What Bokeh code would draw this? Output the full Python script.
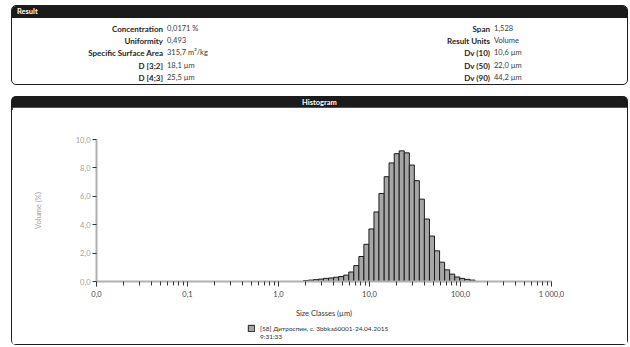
from bokeh.plotting import figure
from bokeh.models import (Range1d, FixedTicker, CustomJSTickFormatter, Div, Legend,
                          LegendItem, ColumnDataSource)
from bokeh.layouts import column
from bokeh.embed import file_html
from bokeh.resources import INLINE

# ---- data -------------------------------------------------------------
bin_lower = [1.88, 2.13, 2.42, 2.75, 3.12, 3.55, 4.03, 4.58, 5.21, 5.92, 6.72, 7.64,
             8.68, 9.86, 11.2, 12.7, 14.5, 16.4, 18.7, 21.2, 24.1, 27.4, 31.1, 35.3,
             40.1, 45.6, 51.8, 58.9, 66.9, 76.0, 86.4, 98.1, 111.0, 127.0]
bin_upper = [2.13, 2.42, 2.75, 3.12, 3.55, 4.03, 4.58, 5.21, 5.92, 6.72, 7.64, 8.68,
             9.86, 11.2, 12.7, 14.5, 16.4, 18.7, 21.2, 24.1, 27.4, 31.1, 35.3, 40.1,
             45.6, 51.8, 58.9, 66.9, 76.0, 86.4, 98.1, 111.0, 127.0, 144.0]
volume_pct = [0.07, 0.10, 0.13, 0.17, 0.22, 0.25, 0.30, 0.35, 0.45, 0.67, 1.12, 1.76,
              2.62, 3.70, 4.90, 6.20, 7.38, 8.35, 9.00, 9.20, 9.06, 8.20, 7.10, 5.80,
              4.40, 3.20, 2.16, 1.36, 0.82, 0.52, 0.32, 0.22, 0.15, 0.10]

result_left_labels = ["Concentration", "Uniformity", "Specific Surface Area", "D [3;2]", "D [4;3]"]
result_left_values = ["0,0171 %", "0,493", "315,7 m²/kg", "18,1 µm", "25,5 µm"]
result_right_labels = ["Span", "Result Units", "Dv (10)", "Dv (50)", "Dv (90)"]
result_right_values = ["1,528", "Volume", "10,6 µm", "22,0 µm", "44,2 µm"]

x_tick_values = [0.01, 0.1, 1.0, 10.0, 100.0, 1000.0]
x_tick_labels = ["0,0", "0,1", "1,0", "10,0", "100,0", "1 000,0"]
y_tick_values = [0, 2, 4, 6, 8, 10]
y_tick_labels = ["0,0", "2,0", "4,0", "6,0", "8,0", "10,0"]

legend_lines = ["[58] Дитроспин, с. 3bbka60001-24.04.2015", "9:31:33"]

FONT = "Lato"
BAR_FILL = "#a6a6a6"
BAR_LINE = "#1a1a1a"
BORDER = "1.5px solid #1e1e1e"
NAN = float("nan")

# ---- Result panel -------------------------------------------------------
rows = []
for i, (lab, val) in enumerate(zip(result_left_labels, result_left_values)):
    top = 18 + 12.2 * i
    rows.append(f'<span style="position:absolute;right:464px;top:{top}px;font-weight:bold;font-size:8px;color:#1e1e1e;white-space:nowrap;">{lab}</span>')
    rows.append(f'<span style="position:absolute;left:155px;top:{top}px;color:#3a3a3a;white-space:nowrap;">{val}</span>')
for i, (lab, val) in enumerate(zip(result_right_labels, result_right_values)):
    top = 18 + 12.2 * i
    rows.append(f'<span style="position:absolute;right:137px;top:{top}px;font-weight:bold;font-size:8px;color:#1e1e1e;white-space:nowrap;">{lab}</span>')
    rows.append(f'<span style="position:absolute;left:482px;top:{top}px;color:#3a3a3a;white-space:nowrap;">{val}</span>')

result_html = (
    f'<div style="position:relative;box-sizing:border-box;width:617px;height:80px;'
    f'border:{BORDER};border-radius:5px;overflow:hidden;background:#fff;'
    f'font-family:{FONT};font-size:7.5px;line-height:10px;">'
    f'<div style="position:absolute;left:0;top:0;width:100%;height:12px;background:#1b1b1b;'
    f'color:#fff;font-weight:bold;line-height:12px;padding-left:5px;box-sizing:border-box;">Result</div>'
    + "".join(rows) + '</div>'
)
result_div = Div(text=result_html, width=617, height=80, margin=(5, 0, 0, 11))

hist_header = Div(
    text=(f'<div style="box-sizing:border-box;width:617px;height:14px;background:#1b1b1b;'
          f'border-radius:5px 5px 0 0;color:#fff;font-family:{FONT};font-size:7.5px;'
          f'font-weight:bold;line-height:14px;text-align:center;">Histogram</div>'),
    width=617, height=14, margin=(8, 0, 0, 11))

# ---- Histogram ------------------------------------------------------------
src = ColumnDataSource(dict(left=bin_lower, right=bin_upper, top=volume_pct))

p = figure(width=617, height=213, x_axis_type="log",
           x_range=Range1d(0.01, 1000), y_range=Range1d(0, 10),
           output_backend="svg", toolbar_location=None,
           min_border_left=84, min_border_right=78, min_border_top=32, min_border_bottom=36,
           margin=(0, 0, 0, 11),
           styles={"border-left": BORDER, "border-right": BORDER})
p.outline_line_color = None
p.xgrid.visible = False
p.ygrid.visible = False
p.background_fill_color = "white"
p.border_fill_color = "white"

r = p.quad(left="left", right="right", bottom=0, top="top", source=src,
           fill_color=BAR_FILL, line_color=BAR_LINE, line_width=1)

minor = [m * 10.0 ** k for k in range(-2, 3) for m in range(2, 10)]
p.xaxis.ticker = FixedTicker(ticks=x_tick_values, minor_ticks=minor)
p.xaxis.formatter = CustomJSTickFormatter(
    args=dict(vals=x_tick_values, labs=x_tick_labels),
    code="""
for (let i = 0; i < vals.length; i++) {
  if (Math.abs(Math.log10(vals[i]) - Math.log10(tick)) < 1e-6) return labs[i];
}
return "";
""")
p.yaxis.ticker = FixedTicker(ticks=y_tick_values, minor_ticks=[])
p.yaxis.formatter = CustomJSTickFormatter(
    args=dict(vals=y_tick_values, labs=y_tick_labels),
    code="""
for (let i = 0; i < vals.length; i++) {
  if (Math.abs(vals[i] - tick) < 1e-6) return labs[i];
}
return "";
""")

for ax in (p.xaxis, p.yaxis):
    ax.axis_line_color = "#b0b0b0"
    ax.axis_line_width = 2
    ax.major_tick_line_color = "#333333"
    ax.major_tick_line_width = 1
    ax.major_tick_in = 0
    ax.major_label_text_font = FONT
    ax.major_label_text_font_size = "7.5px"
    ax.axis_label_text_font = FONT
    ax.axis_label_text_font_size = "7.5px"
    ax.axis_label_text_font_style = "normal"

p.xaxis.major_tick_out = 5
p.xaxis.minor_tick_out = 4
p.xaxis.minor_tick_in = 0
p.xaxis.minor_tick_line_color = "#333333"
p.xaxis.major_label_standoff = 3
p.xaxis.major_label_text_color = "#444444"
p.xaxis.axis_label = "Size Classes (µm)"
p.xaxis.axis_label_text_color = "#333333"
p.xaxis.axis_label_standoff = 7

p.yaxis.major_tick_out = 4
p.yaxis.major_label_standoff = 2
p.yaxis.major_label_text_color = "#a0a0a0"
p.yaxis.axis_label = "Volume (%)"
p.yaxis.axis_label_text_color = "#a0a0a0"
p.yaxis.axis_label_standoff = 30

# ---- legend strip (bottom of the histogram panel) -------------------------
pl = figure(width=617, height=25, x_range=Range1d(0, 1), y_range=Range1d(0, 1),
            x_axis_location=None, y_axis_location=None,
            output_backend="svg", toolbar_location=None, min_border=0,
            margin=(0, 0, 0, 11),
            styles={"border-left": BORDER, "border-right": BORDER, "border-bottom": BORDER,
                    "border-radius": "0 0 5px 5px"})
pl.xgrid.visible = False
pl.ygrid.visible = False
pl.outline_line_color = None
pl.background_fill_color = "white"
pl.border_fill_color = "white"
# legend-only renderers (no visible marks in the strip)
lg_glyph = pl.quad(left=[NAN], right=[NAN], bottom=[NAN], top=[NAN],
                   fill_color=BAR_FILL, line_color=BAR_LINE, line_width=1)
lg_blank = pl.quad(left=[NAN], right=[NAN], bottom=[NAN], top=[NAN],
                   fill_alpha=0, line_alpha=0)

legend = Legend(items=[LegendItem(label=legend_lines[0], renderers=[lg_glyph]),
                       LegendItem(label=legend_lines[1], renderers=[lg_blank])],
                location=(151, 5), orientation="vertical",
                margin=0, padding=2, spacing=0, glyph_width=8, glyph_height=8,
                label_text_font=FONT, label_text_font_size="6.5px",
                label_text_color="#333333", label_standoff=5, label_height=8,
                label_text_baseline="middle",
                border_line_color=None, background_fill_alpha=0)
pl.add_layout(legend, "center")

layout = column(result_div, hist_header, p, pl, spacing=0)

open("out.html", "w").write(file_html(layout, INLINE))
